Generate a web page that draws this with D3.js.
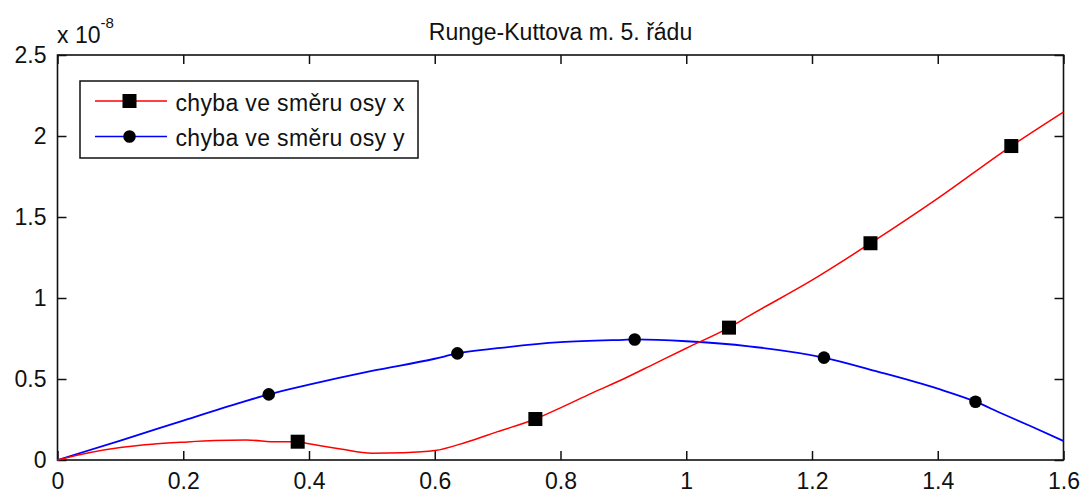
<!DOCTYPE html>
<html>
<head>
<meta charset="utf-8">
<script src="https://d3js.org/d3.v7.min.js"></script>
<style>
body { margin: 0; background: #fff; }
svg text { font-family: "Liberation Sans", Arial, sans-serif; fill: #111; }
.axis path { display: none; }
.axis line { stroke: #111; stroke-width: 1.5; }
.axis text { font-size: 23px; }
</style>
</head>
<body>
<script>

// x-direction error (red, squares)
var redX = [0, 0.05, 0.1, 0.15, 0.2, 0.25, 0.3, 0.35, 0.382, 0.4, 0.45, 0.5, 0.55, 0.6, 0.65, 0.7, 0.76, 0.8, 0.85, 0.9, 0.95, 1.0, 1.068, 1.1, 1.2, 1.293, 1.4, 1.517, 1.6];
var redY = [0, 0.045, 0.077, 0.097, 0.11, 0.12, 0.123, 0.112, 0.113, 0.1, 0.068, 0.042, 0.045, 0.058, 0.11, 0.175, 0.253, 0.322, 0.413, 0.5, 0.595, 0.69, 0.817, 0.89, 1.11, 1.338, 1.615, 1.938, 2.148];
var redMarkX = [0.382, 0.76, 1.068, 1.293, 1.517];
var redMarkY = [0.113, 0.253, 0.817, 1.338, 1.938];

// y-direction error (blue, circles)
var blueX = [0, 0.1, 0.2, 0.3, 0.336, 0.4, 0.5, 0.6, 0.636, 0.7, 0.8, 0.9, 0.918, 1.0, 1.1, 1.219, 1.3, 1.4, 1.46, 1.5, 1.55, 1.6];
var blueY = [0, 0.12, 0.243, 0.365, 0.405, 0.465, 0.55, 0.625, 0.658, 0.69, 0.727, 0.742, 0.744, 0.733, 0.702, 0.632, 0.55, 0.44, 0.36, 0.29, 0.205, 0.117];
var blueMarkX = [0.336, 0.636, 0.918, 1.219, 1.46];
var blueMarkY = [0.405, 0.658, 0.744, 0.632, 0.36];

var xTicks = [0, 0.2, 0.4, 0.6, 0.8, 1, 1.2, 1.4, 1.6];
var xTickLabels = ["0", "0.2", "0.4", "0.6", "0.8", "1", "1.2", "1.4", "1.6"];
var yTicks = [0, 0.5, 1, 1.5, 2, 2.5];
var yTickLabels = ["0", "0.5", "1", "1.5", "2", "2.5"];

var title = "Runge-Kuttova m. 5. řádu";
var legendLabels = ["chyba ve směru osy x", "chyba ve směru osy y"];

var margin = {top: 55, right: 19.5, bottom: 34, left: 57.5},
    width = 1083 - margin.left - margin.right,
    height = 494 - margin.top - margin.bottom;

var svg = d3.select("body").append("svg")
    .attr("width", 1083)
    .attr("height", 494);

var g = svg.append("g")
    .attr("transform", "translate(" + margin.left + "," + margin.top + ")");

var xScale = d3.scaleLinear().domain([0, 1.6]).range([0, width]);
var yScale = d3.scaleLinear().domain([0, 2.5]).range([height, 0]);

// axes with inward ticks on all four sides
g.append("g")
    .attr("class", "axis")
    .attr("transform", "translate(0," + height + ")")
    .call(d3.axisBottom(xScale).tickValues(xTicks)
        .tickFormat(function(d, i) { return xTickLabels[i]; })
        .tickSizeInner(-9).tickSizeOuter(0).tickPadding(12.5));

g.append("g")
    .attr("class", "axis")
    .call(d3.axisTop(xScale).tickValues(xTicks).tickFormat("")
        .tickSizeInner(-9).tickSizeOuter(0));

g.append("g")
    .attr("class", "axis")
    .call(d3.axisLeft(yScale).tickValues(yTicks)
        .tickFormat(function(d, i) { return yTickLabels[i]; })
        .tickSizeInner(-9).tickSizeOuter(0).tickPadding(11));

g.append("g")
    .attr("class", "axis")
    .attr("transform", "translate(" + width + ",0)")
    .call(d3.axisRight(yScale).tickValues(yTicks).tickFormat("")
        .tickSizeInner(-9).tickSizeOuter(0));

// frame
g.append("rect")
    .attr("width", width)
    .attr("height", height)
    .attr("fill", "none")
    .attr("stroke", "#111")
    .attr("stroke-width", 1.6);

var line = d3.line()
    .x(function(d) { return xScale(d[0]); })
    .y(function(d) { return yScale(d[1]); })
    .curve(d3.curveMonotoneX);

g.append("path")
    .datum(d3.zip(blueX, blueY))
    .attr("d", line)
    .attr("fill", "none")
    .attr("stroke", "#0000ff")
    .attr("stroke-width", 1.8);

g.append("path")
    .datum(d3.zip(redX, redY))
    .attr("d", line)
    .attr("fill", "none")
    .attr("stroke", "#ff0000")
    .attr("stroke-width", 1.5);

g.selectAll(".sq")
    .data(d3.zip(redMarkX, redMarkY))
  .enter().append("rect")
    .attr("class", "sq")
    .attr("x", function(d) { return xScale(d[0]) - 7; })
    .attr("y", function(d) { return yScale(d[1]) - 7; })
    .attr("width", 14)
    .attr("height", 14)
    .attr("fill", "#000");

g.selectAll(".dot")
    .data(d3.zip(blueMarkX, blueMarkY))
  .enter().append("circle")
    .attr("class", "dot")
    .attr("cx", function(d) { return xScale(d[0]); })
    .attr("cy", function(d) { return yScale(d[1]); })
    .attr("r", 6.3)
    .attr("fill", "#000");

// title
svg.append("text")
    .attr("x", margin.left + width / 2)
    .attr("y", 40)
    .attr("text-anchor", "middle")
    .style("font-size", "23px")
    .text(title);

// exponent label
var expo = svg.append("text")
    .attr("x", 57)
    .attr("y", 43.3)
    .style("font-size", "23px");
expo.append("tspan").text("x 10");
expo.append("tspan").attr("dy", -15).style("font-size", "15px").text("-8");

// legend
var legend = svg.append("g");
legend.append("rect")
    .attr("x", 80)
    .attr("y", 81)
    .attr("width", 338)
    .attr("height", 77)
    .attr("fill", "#fff")
    .attr("stroke", "#111")
    .attr("stroke-width", 1.5);

var rows = [
  {label: legendLabels[0], color: "#ff0000", shape: "square", y: 101},
  {label: legendLabels[1], color: "#0000ff", shape: "circle", y: 136.5}
];

rows.forEach(function(r) {
  legend.append("line")
      .attr("x1", 95).attr("x2", 167)
      .attr("y1", r.y).attr("y2", r.y)
      .attr("stroke", r.color)
      .attr("stroke-width", 1.6);
  if (r.shape == "square") {
    legend.append("rect")
        .attr("x", 129.5 - 7).attr("y", r.y - 7)
        .attr("width", 14).attr("height", 14)
        .attr("fill", "#000");
  } else {
    legend.append("circle")
        .attr("cx", 129.5).attr("cy", r.y)
        .attr("r", 6.3)
        .attr("fill", "#000");
  }
  legend.append("text")
      .attr("x", 175.5)
      .attr("y", r.y + 9.5)
      .style("font-size", "23px")
      .style("letter-spacing", "0.35px")
      .text(r.label);
});

</script>
</body>
</html>
